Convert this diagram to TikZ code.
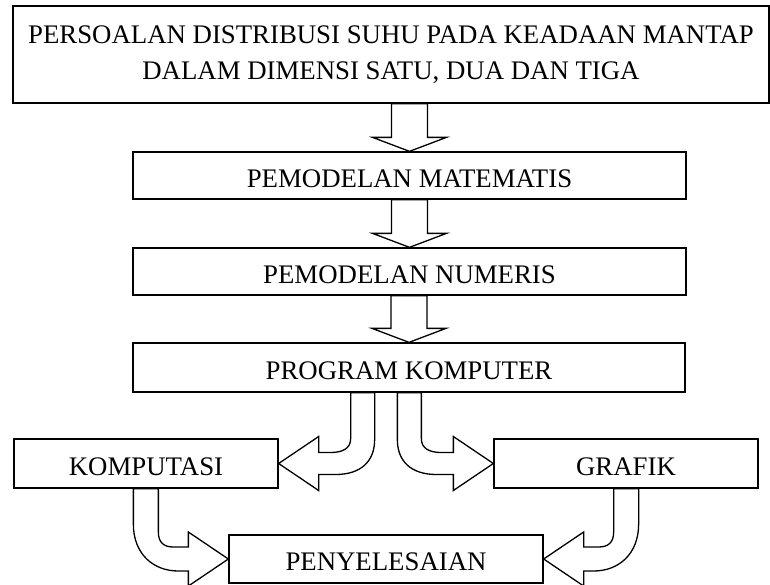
\documentclass[tikz,border=0pt]{standalone}
\usepackage{fontspec}
\setmainfont{Liberation Serif}
\usetikzlibrary{calc}
\begin{document}
\begin{tikzpicture}[x=1pt,y=-1pt,
  box/.style={draw,line width=1.3pt,rectangle,inner sep=0pt,font=\fontsize{26.8}{36}\selectfont},
  lowtext/.style={text height=23.5pt,text depth=0pt},
  blk/.style={draw,fill=white,line width=1.3pt,line join=miter}]
\useasboundingbox (0,0) rectangle (770,584);
\node[box,minimum width=756pt,minimum height=97pt,align=center] (b1) at (391,54.5)
  {PERSOALAN DISTRIBUSI SUHU PADA KEADAAN MANTAP\\DALAM DIMENSI SATU, DUA DAN TIGA};
\node[box,lowtext,minimum width=553pt,minimum height=47pt] (b2) at (409.5,175.5) {PEMODELAN MATEMATIS};
\node[box,lowtext,minimum width=553pt,minimum height=47pt] (b3) at (409.5,271.5) {PEMODELAN NUMERIS};
\node[box,lowtext,minimum width=552pt,minimum height=49pt] (b4) at (409,367.5) {PROGRAM KOMPUTER};
\node[box,lowtext,minimum width=264pt,minimum height=49pt] (komp) at (146,463.5) {KOMPUTASI};
\node[box,lowtext,minimum width=264pt,minimum height=49pt] (graf) at (626,463.5) {GRAFIK};
\node[box,lowtext,minimum width=314pt,minimum height=48pt] (peny) at (386,559) {PENYELESAIAN};
% straight block arrows
\begin{scope}[shift={(b2.north)}]
\draw[blk] (-18,0 |- b1.south) -- (-18,-14) -- (-37,-14) -- (0,0) -- (37,-14) -- (18,-14) -- (18,0 |- b1.south) -- cycle;
\end{scope}
\begin{scope}[shift={(b3.north)}]
\draw[blk] (-18,0 |- b2.south) -- (-18,-14) -- (-37,-14) -- (0,0) -- (37,-14) -- (18,-14) -- (18,0 |- b2.south) -- cycle;
\end{scope}
\begin{scope}[shift={(b4.north)}]
\draw[blk] (-18,0 |- b3.south) -- (-18,-14) -- (-37,-14) -- (0,0) -- (37,-14) -- (18,-14) -- (18,0 |- b3.south) -- cycle;
\end{scope}
% curved block arrows from PROGRAM KOMPUTER
\begin{scope}[shift={(komp.east)}]
\draw[blk] (72,0 |- b4.south) -- (72,-25) .. controls (72,-15) and (64,-11) .. (52,-11) -- (40,-11) -- (40,-27) -- (0,0) -- (40,27) -- (40,11) -- (57,11) .. controls (82,11) and (96,-2) .. (96,-24) -- (96,0 |- b4.south) -- cycle;
\end{scope}
\begin{scope}[shift={(graf.west)},xscale=-1]
\draw[blk] (72,0 |- b4.south) -- (72,-25) .. controls (72,-15) and (64,-11) .. (52,-11) -- (40,-11) -- (40,-27) -- (0,0) -- (40,27) -- (40,11) -- (57,11) .. controls (82,11) and (96,-2) .. (96,-24) -- (96,0 |- b4.south) -- cycle;
\end{scope}
% curved block arrows into PENYELESAIAN
\begin{scope}[shift={(peny.west)}]
\draw[blk] (-95,0 |- komp.south) -- (-95,-35) .. controls (-95,-5) and (-75,12) .. (-50,12) -- (-40,12) -- (-40,27) -- (0,0) -- (-40,-27) -- (-40,-12) -- (-55,-12) .. controls (-65,-12) and (-70,-17) .. (-70,-27) -- (-70,0 |- komp.south) -- cycle;
\end{scope}
\begin{scope}[shift={(peny.east)},xscale=-1]
\draw[blk] (-95,0 |- graf.south) -- (-95,-35) .. controls (-95,-5) and (-75,12) .. (-50,12) -- (-40,12) -- (-40,27) -- (0,0) -- (-40,-27) -- (-40,-12) -- (-55,-12) .. controls (-65,-12) and (-70,-17) .. (-70,-27) -- (-70,0 |- graf.south) -- cycle;
\end{scope}
\end{tikzpicture}
\end{document}
